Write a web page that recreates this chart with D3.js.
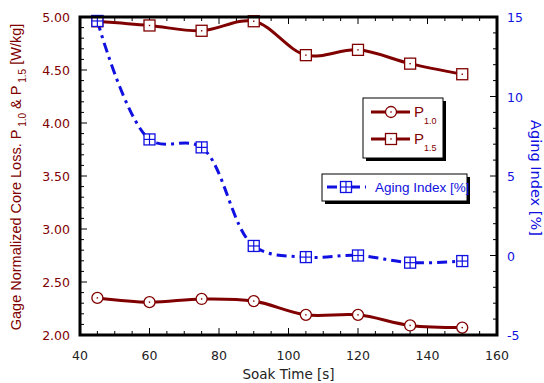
<!DOCTYPE html>
<meta charset="utf-8">
<style>
    body { margin: 0; background: #fff; }
    text { font-family: "DejaVu Sans", Verdana, sans-serif; }
    .arial { font-family: "Liberation Sans", Arial, sans-serif; }
</style>
<body>
<script src="https://cdnjs.cloudflare.com/ajax/libs/d3/7.8.5/d3.min.js"></script>
<script>
    // data
    var soakTime = [45, 60, 75, 90, 105, 120, 135, 150];
    var p10 = [2.35, 2.31, 2.34, 2.32, 2.19, 2.19, 2.09, 2.07];
    var p15 = [4.96, 4.92, 4.87, 4.96, 4.64, 4.69, 4.56, 4.46];
    var agingIndex = [14.75, 7.3, 6.8, 0.6, -0.1, 0.0, -0.45, -0.35];
    var xTicks = [40, 60, 80, 100, 120, 140, 160];
    var yTicks = [2.0, 2.5, 3.0, 3.5, 4.0, 4.5, 5.0];
    var y2Ticks = [-5, 0, 5, 10, 15];

    var red = "#800000", blue = "#1010e0";
    var W = 544, H = 383;
    var margin = { top: 17, right: 47, bottom: 48, left: 80 },
        width = W - margin.left - margin.right,
        height = H - margin.top - margin.bottom;

    var svg = d3.select("body").append("svg")
        .attr("width", W).attr("height", H);
    var g = svg.append("g")
        .attr("transform", "translate(" + margin.left + "," + margin.top + ")");

    var x = d3.scaleLinear().domain([40, 160]).range([0, width]);
    var y = d3.scaleLinear().domain([2, 5]).range([height, 0]);
    var y2 = d3.scaleLinear().domain([-5, 15]).range([height, 0]);

    // minor ticks inside the frame
    var minorX = d3.range(40, 160.1, 5);
    var minorY = d3.range(2, 5.001, 0.1);
    var minorY2 = d3.range(-5, 15.1, 1);

    var ticks = g.append("g").attr("stroke", "#000").attr("stroke-width", 1);
    minorX.forEach(function (v) {
        var len = (v % 20 === 0) ? 7 : 4;
        ticks.append("line").attr("x1", x(v)).attr("x2", x(v)).attr("y1", height).attr("y2", height - len);
        ticks.append("line").attr("x1", x(v)).attr("x2", x(v)).attr("y1", 0).attr("y2", len);
    });
    minorY.forEach(function (v) {
        var major = Math.abs(v * 2 - Math.round(v * 2)) < 1e-6;
        var len = major ? 7 : 4;
        ticks.append("line").attr("x1", 0).attr("x2", len).attr("y1", y(v)).attr("y2", y(v));
    });
    minorY2.forEach(function (v) {
        var len = (v % 5 === 0) ? 7 : 4;
        ticks.append("line").attr("x1", width).attr("x2", width - len).attr("y1", y2(v)).attr("y2", y2(v));
    });

    // tick labels
    g.append("g").selectAll("text").data(xTicks).enter().append("text")
        .attr("x", function (d) { return x(d); })
        .attr("y", height + 25)
        .attr("text-anchor", "middle")
        .attr("font-size", 12.5)
        .attr("fill", "#222")
        .text(function (d) { return d; });
    g.append("g").selectAll("text").data(yTicks).enter().append("text")
        .attr("x", -10)
        .attr("y", function (d) { return y(d) + 5; })
        .attr("text-anchor", "end")
        .attr("font-size", 12.5)
        .attr("fill", red)
        .text(function (d) { return d3.format(".2f")(d); });
    g.append("g").selectAll("text").data(y2Ticks).enter().append("text")
        .attr("x", width + 10)
        .attr("y", function (d) { return y2(d) + 5; })
        .attr("font-size", 12.5)
        .attr("fill", blue)
        .text(function (d) { return d; });

    // axis titles
    g.append("text")
        .attr("x", width / 2).attr("y", height + 44)
        .attr("text-anchor", "middle")
        .attr("font-size", 13.5).attr("fill", "#222")
        .text("Soak Time [s]");

    var yl = svg.append("text").attr("class", "arial")
        .attr("transform", "translate(21,177) rotate(-90)")
        .attr("text-anchor", "middle")
        .attr("font-size", 14.5).attr("fill", red);
    yl.append("tspan").text("Gage Normalized Core Loss. P");
    yl.append("tspan").attr("font-size", 10).attr("dy", 5).text(" 1.0");
    yl.append("tspan").attr("dy", -5).text("  & P");
    yl.append("tspan").attr("font-size", 10).attr("dy", 5).text(" 1.5");
    yl.append("tspan").attr("dy", -5).text("  [W/kg]");

    svg.append("text")
        .attr("transform", "translate(531,178) rotate(90)")
        .attr("text-anchor", "middle")
        .attr("font-size", 14.5).attr("fill", blue)
        .text("Aging Index [%]");

    // lines
    var lineL = d3.line().curve(d3.curveCatmullRom.alpha(0.5))
        .x(function (d, i) { return x(soakTime[i]); })
        .y(function (d) { return y(d); });
    var lineR = d3.line().curve(d3.curveCatmullRom.alpha(0.5))
        .x(function (d, i) { return x(soakTime[i]); })
        .y(function (d) { return y2(d); });

    g.append("path").datum(p10).attr("d", lineL)
        .attr("fill", "none").attr("stroke", red).attr("stroke-width", 3);
    g.append("path").datum(p15).attr("d", lineL)
        .attr("fill", "none").attr("stroke", red).attr("stroke-width", 3);
    g.append("path").datum(agingIndex).attr("d", lineR)
        .attr("fill", "none").attr("stroke", blue).attr("stroke-width", 3)
        .attr("stroke-dasharray", "10,5,3,5");

    // markers
    function circleMark(sel, cx, cy) {
        sel.append("circle").attr("cx", cx).attr("cy", cy).attr("r", 5.5)
            .attr("fill", "#fff").attr("stroke", red).attr("stroke-width", 1.3);
        sel.append("rect").attr("x", cx - 0.7).attr("y", cy - 0.7).attr("width", 1.4).attr("height", 1.4).attr("fill", red);
    }
    function squareMark(sel, cx, cy) {
        sel.append("rect").attr("x", cx - 5.5).attr("y", cy - 5.5).attr("width", 11).attr("height", 11)
            .attr("fill", "#fff").attr("stroke", red).attr("stroke-width", 1.3);
        sel.append("rect").attr("x", cx - 0.7).attr("y", cy - 0.7).attr("width", 1.4).attr("height", 1.4).attr("fill", red);
    }
    function gridMark(sel, cx, cy) {
        sel.append("rect").attr("x", cx - 5.5).attr("y", cy - 5.5).attr("width", 11).attr("height", 11)
            .attr("fill", "#fff").attr("stroke", blue).attr("stroke-width", 1.3);
        sel.append("line").attr("x1", cx).attr("x2", cx).attr("y1", cy - 5.5).attr("y2", cy + 5.5)
            .attr("stroke", blue).attr("stroke-width", 1.2);
        sel.append("line").attr("x1", cx - 5.5).attr("x2", cx + 5.5).attr("y1", cy).attr("y2", cy)
            .attr("stroke", blue).attr("stroke-width", 1.2);
    }

    var marks = g.append("g");
    p10.forEach(function (d, i) { circleMark(marks, x(soakTime[i]), y(d)); });
    p15.forEach(function (d, i) { squareMark(marks, x(soakTime[i]), y(d)); });
    agingIndex.forEach(function (d, i) { gridMark(marks, x(soakTime[i]), y2(d)); });

    // frame
    g.append("rect").attr("width", width).attr("height", height)
        .attr("fill", "none").attr("stroke", "#000").attr("stroke-width", 3);

    // legends
    function legendBox(x0, y0, w, h) {
        svg.append("rect").attr("x", x0 + 3).attr("y", y0 + 3).attr("width", w).attr("height", h).attr("fill", "#000");
        svg.append("rect").attr("x", x0).attr("y", y0).attr("width", w).attr("height", h)
            .attr("fill", "#fff").attr("stroke", "#000").attr("stroke-width", 1);
    }
    legendBox(363, 98, 80, 60);
    [[112, "1.0", circleMark], [139, "1.5", squareMark]].forEach(function (it) {
        svg.append("line").attr("x1", 371).attr("x2", 410).attr("y1", it[0]).attr("y2", it[0])
            .attr("stroke", red).attr("stroke-width", 3);
        it[2](svg, 391, it[0]);
        var t = svg.append("text").attr("class", "arial").attr("x", 414).attr("y", it[0] + 5)
            .attr("font-size", 15).attr("fill", red);
        t.append("tspan").text("P");
        t.append("tspan").attr("font-size", 9).attr("dy", 7).text(it[1]);
    });

    legendBox(322, 174, 145, 27);
    svg.append("line").attr("x1", 327).attr("x2", 366).attr("y1", 187).attr("y2", 187)
        .attr("stroke", blue).attr("stroke-width", 3).attr("stroke-dasharray", "10,5,3,5");
    gridMark(svg, 346, 187);
    svg.append("text").attr("class", "arial").attr("x", 375).attr("y", 192)
        .attr("font-size", 13.5).attr("fill", blue)
        .text("Aging Index [%]");
</script>
</body>
